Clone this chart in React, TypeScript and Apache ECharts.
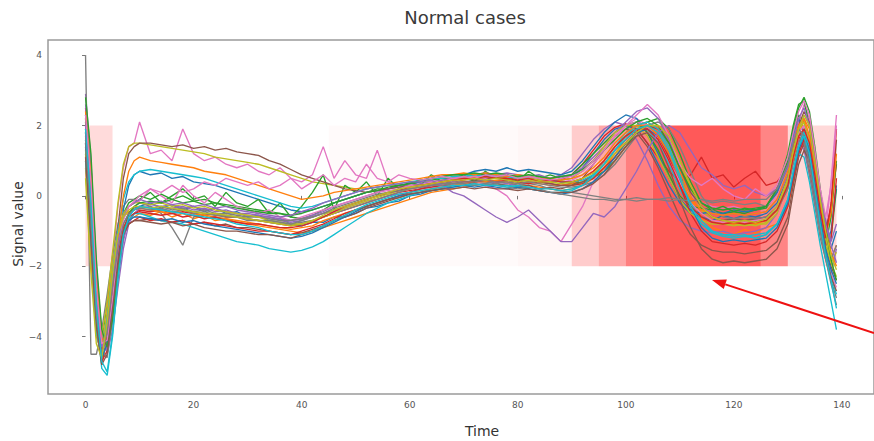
import React, { useEffect, useRef } from "react";
import * as echarts from "echarts";

// Time samples (denser where the signal changes fast)
const times = [
  0, 1, 2, 3, 4, 5, 6, 7, 8, 9,
  10, 12, 14, 16, 18, 20, 22, 24, 26, 28,
  30, 32, 34, 36, 38, 40, 42, 44, 46, 48,
  50, 52, 54, 56, 58, 60, 62, 64, 66, 68,
  70, 72, 74, 76, 78, 80, 82, 84, 86, 88,
  90, 92, 94, 96, 98, 100, 102, 104, 106, 108,
  110, 112, 114, 116, 118, 120, 122, 124, 126, 128,
  130, 131, 132, 133, 134, 135, 136, 137, 138, 139,
];

const xTicks = [0, 20, 40, 60, 80, 100, 120, 140];
const yTicks = [-4, -2, 0, 2, 4];

// Attention shading blocks (time start, time end, red intensity), spanning -2..2
const shadeStart = [0, 45, 80, 90, 95, 100, 105, 125, 130];
const shadeEnd = [5, 80, 90, 95, 100, 105, 125, 130, 139];
const shadeAlpha = [0.14, 0.018, 0.035, 0.2, 0.34, 0.5, 0.65, 0.48, 0.15];

const line01 = [1.8,-0.5,-3.2,-4.4,-3.6,-2.4,-1.4,-0.8,-0.5,-0.4, -0.3,-0.2,-0.35,-0.25,-0.4,-0.3,-0.45,-0.35,-0.5,-0.45, -0.6,-0.55,-0.7,-0.65,-0.8,-0.85,-0.75,-0.75,-0.6,-0.6, -0.5,-0.35,-0.3,-0.2,-0.15,0.0,0.05,0.15,0.2,0.3, 0.3,0.4,0.4,0.35,0.45,0.4,0.5,0.4,0.35,0.45, 0.5,0.8,1.2,1.6,1.9,2.0,1.9,1.5,0.9,0.3, -0.2,-0.5,-0.6,-0.7,-0.55,-0.65,-0.55,-0.6,-0.5,-0.2, 0.5,1.3,1.8,1.6,0.9,0.2,-0.5,-1.2,-1.5,-1.0];
const line02 = [2.2,0.3,-2.8,-4.6,-4.2,-3.0,-1.8,-1.0,-0.7,-0.6, -0.5,-0.55,-0.45,-0.6,-0.5,-0.65,-0.55,-0.7,-0.65,-0.75, -0.8,-0.85,-0.9,-0.95,-1.0,-1.05,-1.0,-0.9,-0.8,-0.7, -0.6,-0.5,-0.4,-0.3,-0.2,-0.1,0.0,0.1,0.15,0.2, 0.25,0.3,0.35,0.3,0.35,0.3,0.3,0.25,0.2,0.15, 0.2,0.3,0.5,0.8,1.2,1.6,1.9,2.0,1.8,1.3, 0.6,-0.1,-0.6,-0.9,-1.0,-1.1,-0.95,-1.05,-0.9,-0.8, -0.3,0.4,1.2,1.8,1.5,0.6,-0.4,-1.3,-1.8,-1.4];
const line03 = [1.2,-1.0,-3.8,-4.2,-3.0,-1.9,-1.1,-0.5,-0.2,-0.1, 0.0,-0.1,0.05,-0.1,0.0,-0.15,-0.1,-0.2,-0.25,-0.3, -0.35,-0.4,-0.45,-0.5,-0.6,-0.65,-0.55,-0.4,-0.2,-0.1, 0.0,0.1,0.2,0.2,0.3,0.35,0.4,0.45,0.5,0.5, 0.55,0.5,0.6,0.55,0.5,0.55,0.5,0.45,0.5,0.4, 0.35,0.4,0.5,0.7,1.0,1.4,1.8,2.1,2.2,1.9, 1.2,0.4,-0.2,-0.4,-0.5,-0.45,-0.5,-0.4,-0.35,0.1, 0.9,1.8,2.3,2.1,1.2,0.1,-0.9,-1.6,-1.2,0.2];
const line04 = [2.5,0.8,-2.5,-4.0,-4.3,-3.3,-2.0,-1.2,-0.7,-0.5, -0.4,-0.45,-0.4,-0.5,-0.45,-0.5,-0.55,-0.5,-0.6,-0.6, -0.65,-0.7,-0.75,-0.8,-0.85,-0.8,-0.7,-0.6,-0.5,-0.4, -0.3,-0.2,-0.1,0.0,0.1,0.15,0.2,0.3,0.35,0.4, 0.45,0.5,0.5,0.55,0.5,0.45,0.5,0.45,0.4,0.45, 0.6,0.9,1.3,1.7,1.95,2.05,1.9,1.5,1.1,0.7, 0.4,0.6,1.1,0.5,0.6,0.25,0.5,0.7,0.3,0.4, 0.8,1.4,1.7,1.4,0.7,-0.1,-0.8,-1.0,-0.3,0.9];
const line05 = [2.9,1.0,-2.0,-3.9,-4.5,-3.8,-2.6,-1.5,-0.8,-0.5, -0.35,-0.3,-0.4,-0.35,-0.3,-0.4,-0.35,-0.45,-0.4,-0.5, -0.55,-0.6,-0.6,-0.7,-0.75,-0.7,-0.6,-0.5,-0.45,-0.35, -0.25,-0.15,-0.1,0.0,0.05,0.1,0.2,0.25,0.3,0.3, 0.35,0.4,0.35,0.4,0.35,0.3,0.4,0.45,0.5,0.6, 0.8,1.2,1.6,1.9,2.1,2.0,1.6,1.0,0.3,-0.3, -0.7,-0.9,-1.0,-1.05,-1.0,-1.1,-1.05,-1.0,-0.9,-0.5, 0.3,1.1,1.6,1.3,0.6,-0.2,-1.0,-1.8,-2.2,-1.5];
const line06 = [1.5,-0.8,-3.5,-4.8,-4.0,-2.7,-1.6,-1.0,-0.8,-0.7, -0.7,-0.65,-0.7,-0.75,-0.7,-0.8,-0.75,-0.85,-0.8,-0.9, -0.9,-0.95,-1.0,-1.05,-1.1,-1.05,-0.95,-0.85,-0.7,-0.6, -0.5,-0.35,-0.25,-0.15,-0.05,0.05,0.1,0.2,0.25,0.3, 0.3,0.35,0.3,0.35,0.3,0.25,0.3,0.2,0.25,0.2, 0.3,0.5,0.9,1.3,1.7,1.9,1.8,1.4,0.8,0.1, -0.6,-1.1,-1.4,-1.55,-1.6,-1.6,-1.65,-1.6,-1.55,-1.3, -0.6,0.3,1.1,1.5,1.2,0.4,-0.6,-1.5,-2.0,-2.4];
const line07 = [2.0,-0.2,-3.0,-4.2,-3.4,-1.8,-0.3,0.8,1.4,1.5, 2.1,1.2,1.3,1.0,1.9,1.2,1.0,1.1,0.9,0.8, 0.9,0.7,0.6,0.8,0.5,0.4,0.6,1.4,0.5,1.0, 0.6,0.5,1.3,0.4,0.3,0.35,0.4,0.4,0.45,0.4, 0.5,0.45,0.3,0.2,0.0,-0.4,-0.6,-0.9,-1.0,-1.3, -0.8,-0.3,0.4,1.0,1.6,2.0,2.2,2.0,1.5,0.9, 0.4,0.0,-0.2,-0.3,-0.35,-0.3,-0.4,-0.35,-0.3,0.0, 0.7,1.5,2.1,2.6,2.2,1.2,0.1,-1.0,0.4,2.3];
const line08 = [4.0,-4.5,-4.5,-3.8,-2.8,-1.7,-0.8,-0.3,-0.1,-0.1, -0.2,-0.3,-0.5,-0.9,-1.4,-0.6,-0.5,-0.55,-0.6,-0.6, -0.7,-0.7,-0.75,-0.8,-0.8,-0.75,-0.7,-0.6,-0.5,-0.4, -0.3,-0.2,-0.1,0.0,0.1,0.2,0.25,0.3,0.35,0.4, 0.4,0.45,0.4,0.35,0.4,0.3,0.35,0.3,0.2,0.15, 0.1,0.05,0.0,-0.05,-0.1,-0.1,-0.05,-0.1,-0.1,-0.05, -0.1,-0.15,-0.1,-0.2,-0.15,-0.2,-0.25,-0.2,-0.3,0.1, 0.8,1.6,2.0,1.5,0.6,-0.3,-1.2,-1.8,-2.4,-2.9];
const line09 = [1.0,-1.5,-3.8,-4.0,-3.0,-1.6,-0.2,0.9,1.4,1.5, 1.5,1.45,1.4,1.35,1.3,1.25,1.2,1.1,1.05,1.0, 0.95,0.9,0.8,0.7,0.6,0.5,0.4,0.35,0.3,0.25, 0.2,0.2,0.25,0.3,0.3,0.35,0.4,0.4,0.45,0.5, 0.5,0.55,0.5,0.5,0.45,0.5,0.4,0.45,0.4,0.35, 0.3,0.35,0.5,0.8,1.1,1.5,1.8,2.0,2.0,1.7, 1.0,0.2,-0.4,-0.7,-0.8,-0.8,-0.85,-0.8,-0.8,-0.5, 0.4,1.4,2.0,2.0,1.3,0.3,-0.7,-1.4,-1.9,-1.6];
const line10 = [1.6,-0.6,-3.4,-4.9,-5.1,-4.0,-2.4,-1.2,-0.7,-0.5, -0.5,-0.6,-0.7,-0.75,-0.8,-0.9,-1.0,-1.1,-1.2,-1.3, -1.35,-1.4,-1.5,-1.55,-1.6,-1.55,-1.45,-1.3,-1.1,-0.9, -0.7,-0.5,-0.35,-0.2,-0.1,0.0,0.1,0.15,0.2,0.25, 0.3,0.3,0.35,0.3,0.3,0.25,0.2,0.15,0.1,0.1, 0.15,0.3,0.6,1.0,1.4,1.8,2.0,1.9,1.5,0.9, 0.2,-0.4,-0.8,-1.0,-1.1,-1.1,-1.15,-1.1,-1.05,-0.8, -0.2,0.6,1.2,1.1,0.4,-0.5,-1.4,-2.2,-3.0,-3.8];
const line11 = [2.3,0.5,-2.6,-4.3,-4.1,-3.0,-1.5,-0.4,0.3,0.6, 0.7,0.6,0.65,0.5,0.55,0.4,0.35,0.3,0.2,0.1, 0.0,-0.1,-0.2,-0.3,-0.4,-0.45,-0.4,-0.3,-0.2,-0.1, 0.0,0.1,0.15,0.2,0.3,0.35,0.4,0.5,0.55,0.6, 0.6,0.7,0.75,0.7,0.8,0.7,0.75,0.7,0.65,0.6, 0.7,1.0,1.4,1.8,2.1,2.3,2.2,1.8,1.2,0.5, -0.1,-0.4,-0.5,-0.45,-0.5,-0.4,-0.45,-0.4,-0.3,0.1, 0.9,1.7,2.2,1.8,1.0,0.0,-0.8,-1.4,-1.0,0.3];
const line12 = [0.8,-1.8,-4.0,-4.5,-3.3,-2.0,-1.0,-0.6,-0.45,-0.4, -0.35,-0.4,-0.45,-0.5,-0.4,-0.5,-0.55,-0.6,-0.65,-0.7, -0.75,-0.8,-0.85,-0.9,-0.95,-0.9,-0.85,-0.7,-0.6,-0.5, -0.4,-0.3,-0.2,-0.1,0.0,0.1,0.15,0.2,0.25,0.3, 0.35,0.4,0.4,0.45,0.4,0.35,0.4,0.35,0.3,0.3, 0.35,0.5,0.7,1.0,1.4,1.7,2.0,2.1,1.9,1.4, 0.7,0.0,-0.5,-0.7,-0.75,-0.8,-0.75,-0.8,-0.7,-0.4, 0.2,1.0,1.7,2.2,1.9,1.0,0.0,-0.9,-1.6,-2.0];
const line13 = [1.9,0.0,-3.0,-4.3,-3.9,-2.6,-1.3,-0.6,-0.3,-0.2, -0.1,0.1,-0.2,0.0,0.2,-0.1,0.0,-0.3,0.1,-0.2, -0.3,-0.1,-0.5,-0.2,-0.6,-0.3,0.1,0.6,-0.4,0.3, 0.1,0.4,0.0,0.5,0.2,0.4,0.3,0.6,0.4,0.5, 0.6,0.4,0.7,0.5,0.6,0.4,0.7,0.5,0.6,0.5, 0.6,0.9,1.2,1.5,1.8,2.0,2.1,1.8,1.3,0.6, 0.0,-0.3,-0.35,-0.4,-0.3,-0.45,-0.35,-0.4,-0.3,0.2, 1.2,2.0,2.6,2.7,2.0,0.8,-0.4,-1.4,-0.6,1.0];
const line14 = [1.4,-1.2,-3.6,-4.7,-4.4,-3.2,-1.9,-1.1,-0.8,-0.7, -0.6,-0.7,-0.65,-0.75,-0.7,-0.8,-0.75,-0.8,-0.85,-0.9, -0.95,-1.0,-1.0,-1.05,-1.1,-1.0,-0.9,-0.8,-0.65,-0.5, -0.4,-0.3,-0.2,-0.1,0.0,0.1,0.2,0.25,0.3,0.35, 0.4,0.4,0.45,0.4,0.45,0.4,0.35,0.4,0.35,0.3, 0.3,0.35,0.5,0.8,1.1,1.5,1.8,1.9,1.7,1.1, 0.3,-0.5,-1.0,-1.3,-1.35,-1.4,-1.35,-1.4,-1.3,-1.0, -0.3,0.5,1.2,1.6,1.4,0.6,-0.5,-1.4,-1.2,0.5];
const line15 = [2.6,0.9,-2.2,-4.0,-4.4,-3.6,-2.3,-1.3,-0.6,-0.3, -0.2,-0.25,-0.3,-0.25,-0.35,-0.3,-0.4,-0.35,-0.45,-0.5, -0.5,-0.55,-0.6,-0.65,-0.7,-0.65,-0.55,-0.45,-0.3,-0.2, -0.1,0.0,0.1,0.2,0.25,0.3,0.35,0.4,0.45,0.5, 0.55,0.6,0.65,0.6,0.65,0.6,0.55,0.6,0.5,0.55, 0.6,0.8,1.1,1.4,1.8,2.1,2.4,2.5,2.2,1.6, 0.8,0.1,-0.3,-0.5,-0.55,-0.5,-0.55,-0.5,-0.45,-0.1, 0.6,1.3,1.9,2.3,2.0,1.1,0.1,-0.7,-1.3,-0.8];
const line16 = [2.1,0.2,-2.9,-4.4,-3.9,-2.5,-0.9,0.5,1.2,1.4, 1.5,1.5,1.45,1.4,1.45,1.35,1.4,1.3,1.35,1.25, 1.2,1.15,1.0,0.9,0.75,0.6,0.5,0.4,0.3,0.2, 0.15,0.1,0.15,0.2,0.25,0.3,0.3,0.35,0.4,0.45, 0.5,0.45,0.5,0.5,0.45,0.4,0.45,0.4,0.35,0.3, 0.3,0.4,0.6,0.9,1.3,1.6,1.9,2.0,1.9,1.5, 0.8,0.1,-0.3,-0.6,-0.7,-0.65,-0.7,-0.65,-0.6,-0.3, 0.5,1.4,2.0,2.4,2.1,1.1,0.0,-0.9,-0.4,1.6];
const line17 = [1.7,-0.4,-3.3,-4.5,-3.7,-2.3,-1.2,-0.6,-0.3,-0.2, -0.15,0.2,0.0,-0.2,0.3,0.0,-0.2,0.1,-0.1,-0.3, -0.4,-0.5,-0.4,-0.6,-0.7,-0.6,-0.5,-0.4,-0.3,-0.2, -0.1,0.0,0.1,0.15,0.2,0.3,0.3,0.4,0.4,0.5, 0.5,0.55,0.5,0.6,0.55,0.5,0.45,0.4,0.45,0.4, 0.45,0.6,0.9,1.3,1.7,2.0,2.1,2.0,1.6,1.0, 0.4,-0.2,-0.5,-0.7,-0.75,-0.7,-0.75,-0.7,-0.65,-0.3, 0.4,1.2,1.8,2.0,1.5,0.5,-0.6,-1.6,-2.2,-2.6];
const line18 = [2.2,0.1,-2.9,-4.4,-4.6,-3.5,-2.1,-1.0,-0.5,-0.35, -0.3,-0.35,-0.3,-0.4,-0.35,-0.45,-0.4,-0.5,-0.5,-0.55, -0.6,-0.6,-0.65,-0.7,-0.7,-0.65,-0.6,-0.5,-0.4,-0.3, -0.2,-0.1,0.0,0.05,0.15,0.2,0.25,0.3,0.35,0.35, 0.4,0.4,0.45,0.4,0.4,0.35,0.4,0.35,0.3,0.25, 0.25,0.3,0.4,0.6,0.9,1.3,1.7,2.0,2.1,1.9, 1.4,0.7,0.0,-0.4,-0.6,-0.65,-0.6,-0.65,-0.6,-0.4, 0.2,0.9,1.5,1.9,1.7,0.9,-0.1,-1.1,-1.8,-1.4];
const line19 = [1.3,-1.0,-3.6,-4.3,-3.4,-2.0,-1.0,-0.5,-0.3,-0.2, -0.2,-0.25,-0.2,-0.3,-0.25,-0.35,-0.3,-0.4,-0.45,-0.5, -0.55,-0.6,-0.7,-0.75,-0.8,-0.8,-0.7,-0.6,-0.5,-0.35, -0.25,-0.15,-0.05,0.05,0.15,0.2,0.3,0.35,0.4,0.45, 0.5,0.5,0.55,0.5,0.55,0.5,0.5,0.45,0.5,0.45, 0.5,0.7,1.0,1.4,1.8,2.0,2.0,1.7,1.1,0.5, -0.1,-0.5,-0.7,-0.8,-0.8,-0.85,-0.8,-0.85,-0.75,-0.4, 0.4,1.2,1.9,2.1,1.6,0.7,-0.3,-1.2,-1.9,-2.3];
const line20 = [1.0,-1.4,-3.9,-4.6,-3.5,-2.2,-1.0,-0.1,0.4,0.6, 0.7,0.75,0.7,0.65,0.6,0.55,0.5,0.4,0.3,0.2, 0.1,0.0,-0.1,-0.2,-0.3,-0.35,-0.3,-0.2,-0.1,0.0, 0.1,0.2,0.25,0.3,0.35,0.4,0.45,0.5,0.5,0.55, 0.55,0.6,0.55,0.6,0.55,0.5,0.55,0.5,0.45,0.4, 0.4,0.45,0.6,0.9,1.3,1.7,2.0,2.1,1.9,1.4, 0.6,-0.2,-0.7,-1.0,-1.1,-1.15,-1.1,-1.2,-1.1,-0.8, -0.1,0.7,1.4,1.8,1.4,0.4,-0.7,-1.6,-2.3,-2.8];
const line21 = [1.5,-0.7,-3.5,-4.6,-4.2,-3.0,-1.7,-1.0,-0.7,-0.6, -0.6,-0.65,-0.7,-0.65,-0.75,-0.7,-0.8,-0.85,-0.9,-0.95, -1.0,-1.05,-1.1,-1.15,-1.2,-1.15,-1.05,-0.9,-0.75,-0.6, -0.45,-0.3,-0.2,-0.1,0.0,0.05,0.1,0.15,0.2,0.25, 0.3,0.25,0.3,0.25,0.2,0.25,0.2,0.15,0.1,0.05, 0.1,0.2,0.4,0.7,1.1,1.5,1.8,1.9,1.7,1.2, 0.5,-0.3,-0.9,-1.2,-1.3,-1.25,-1.3,-1.25,-1.2,-0.9, -0.2,0.6,1.3,1.7,1.3,0.4,-0.6,-1.5,-2.1,-2.5];
const line22 = [2.4,0.6,-2.4,-4.1,-4.0,-2.8,-1.2,0.0,0.7,1.0, 1.1,1.0,0.95,0.9,0.85,0.8,0.7,0.65,0.6,0.5, 0.4,0.3,0.2,0.1,0.0,-0.1,-0.05,0.0,0.1,0.15, 0.2,0.25,0.3,0.35,0.4,0.45,0.5,0.55,0.6,0.6, 0.65,0.6,0.65,0.6,0.55,0.6,0.55,0.5,0.5,0.45, 0.5,0.6,0.8,1.1,1.5,1.8,2.0,2.0,1.7,1.2, 0.5,-0.1,-0.4,-0.5,-0.55,-0.5,-0.55,-0.5,-0.45,-0.1, 0.7,1.5,2.0,2.2,1.7,0.8,-0.2,-1.1,-0.5,1.2];
const line23 = [2.8,1.2,-1.8,-3.8,-4.3,-3.5,-2.2,-1.1,-0.5,-0.3, -0.2,-0.15,-0.2,-0.1,-0.2,-0.15,-0.25,-0.2,-0.3,-0.35, -0.4,-0.45,-0.5,-0.5,-0.55,-0.5,-0.4,-0.3,-0.2,-0.1, 0.0,0.1,0.15,0.25,0.3,0.35,0.45,0.5,0.55,0.6, 0.6,0.65,0.6,0.65,0.6,0.55,0.6,0.55,0.5,0.55, 0.6,0.75,1.0,1.3,1.6,1.9,2.1,2.2,2.0,1.5, 0.8,0.2,-0.2,-0.35,-0.4,-0.35,-0.4,-0.35,-0.3,0.2, 1.0,1.9,2.5,2.8,2.4,1.4,0.2,-0.9,-1.8,-2.4];
const line24 = [1.8,-0.3,-3.1,-4.4,-4.0,-2.8,-1.6,-0.9,-0.6,-0.5, -0.45,-0.5,-0.55,-0.5,-0.6,-0.55,-0.65,-0.6,-0.7,-0.75, -0.8,-0.8,-0.85,-0.9,-0.9,-0.85,-0.75,-0.6,-0.45,-0.3, -0.2,-0.1,0.0,0.1,0.15,0.25,0.3,0.35,0.4,0.45, 0.5,0.5,0.55,0.5,0.5,0.45,0.5,0.4,0.45,0.4, 0.4,0.5,0.7,1.0,1.4,1.7,1.9,1.9,1.6,1.0, 0.3,-0.3,-0.6,-0.75,-0.8,-0.75,-0.8,-0.75,-0.7,-0.4, 0.3,1.1,1.7,1.9,1.5,0.6,-0.4,-1.2,-0.2,1.9];
const line25 = [2.0,-0.1,-3.0,-4.3,-3.8,-2.5,-1.3,-0.6,-0.3,-0.2, -0.1,-0.2,-0.15,-0.25,-0.2,-0.3,-0.25,-0.35,-0.3,-0.4, -0.45,-0.5,-0.55,-0.6,-0.55,-0.45,-0.35,-0.2,-0.1,0.0, 0.1,0.2,0.25,0.3,0.35,0.4,0.4,0.45,0.3,0.1, 0.0,-0.2,-0.4,-0.6,-0.75,-0.6,-0.4,-0.7,-1.0,-1.3, -1.3,-0.9,-0.5,-0.6,-0.3,0.2,0.7,1.3,1.8,2.0, 1.8,1.3,0.8,0.6,0.3,0.2,0.3,0.1,0.0,0.2, 0.8,1.6,2.2,2.5,2.0,1.0,0.0,-0.8,-1.4,-1.9];
const line26 = [1.1,-1.3,-3.7,-4.8,-4.5,-3.2,-1.9,-1.1,-0.8,-0.7, -0.7,-0.75,-0.8,-0.75,-0.85,-0.8,-0.9,-0.95,-1.0,-1.0, -1.05,-1.1,-1.1,-1.15,-1.2,-1.1,-1.0,-0.85,-0.7,-0.55, -0.4,-0.3,-0.2,-0.1,-0.05,0.05,0.1,0.15,0.2,0.2, 0.25,0.2,0.25,0.2,0.2,0.15,0.2,0.15,0.1,0.1, 0.1,0.2,0.35,0.6,1.0,1.4,1.7,1.8,1.5,0.8, -0.1,-0.9,-1.5,-1.8,-1.9,-1.85,-1.9,-1.85,-1.8,-1.5, -0.8,0.1,0.9,1.3,1.0,0.2,-0.8,-1.7,-2.3,-2.7];
const line27 = [2.3,0.4,-2.6,-4.2,-4.1,-2.9,-1.5,-0.7,-0.3,-0.15, 0.0,0.2,0.1,0.3,0.1,0.2,0.4,0.3,0.5,0.4, 0.3,0.4,0.2,0.3,0.5,0.2,0.4,0.6,0.3,0.5, 0.4,0.9,0.5,0.4,0.6,0.5,0.45,0.5,0.55,0.5, 0.55,0.5,0.6,0.55,0.6,0.5,0.55,0.5,0.45,0.5, 0.55,0.7,1.0,1.3,1.7,2.0,2.3,2.6,2.3,1.7, 0.9,0.5,0.3,0.5,0.2,0.0,-0.1,0.2,0.0,0.3, 1.1,1.8,2.4,2.7,2.3,1.3,0.2,-0.6,0.3,2.0];
const line28 = [1.6,-0.6,-3.4,-4.5,-3.9,-2.6,-1.5,-0.8,-0.5,-0.4, -0.35,-0.4,-0.35,-0.45,-0.4,-0.5,-0.45,-0.55,-0.55,-0.6, -0.65,-0.7,-0.7,-0.75,-0.8,-0.7,-0.6,-0.5,-0.35,-0.25, -0.15,-0.05,0.05,0.1,0.15,0.2,0.25,0.3,0.3,0.35, 0.35,0.3,0.35,0.3,0.25,0.2,0.25,0.2,0.1,0.05, 0.0,-0.05,-0.1,-0.1,-0.15,-0.1,-0.15,-0.1,-0.1,-0.15, -0.1,-0.15,-0.1,-0.15,-0.1,-0.15,-0.1,-0.1,-0.1,0.2, 0.9,1.5,1.9,1.7,0.9,0.0,-1.0,-1.8,-2.5,-3.1];
const line29 = [0.5,-2.2,-4.2,-4.6,-3.6,-2.2,-1.1,-0.6,-0.4,-0.3, -0.3,-0.35,-0.3,-0.35,-0.4,-0.45,-0.5,-0.5,-0.55,-0.6, -0.65,-0.7,-0.75,-0.8,-0.85,-0.8,-0.7,-0.55,-0.4,-0.3, -0.2,-0.1,0.0,0.1,0.2,0.25,0.3,0.35,0.4,0.45, 0.45,0.5,0.45,0.5,0.45,0.4,0.45,0.4,0.4,0.35, 0.4,0.5,0.65,0.9,1.2,1.5,1.8,2.0,2.0,1.7, 1.0,0.3,-0.3,-0.6,-0.7,-0.75,-0.7,-0.75,-0.65,-0.3, 0.5,1.3,1.9,2.3,2.0,1.0,-0.1,-1.0,-1.7,-2.1];
const line30 = [1.9,-0.2,-3.1,-4.7,-5.0,-3.9,-2.3,-1.1,-0.6,-0.4, -0.3,-0.35,-0.4,-0.45,-0.5,-0.55,-0.6,-0.65,-0.7,-0.8, -0.85,-0.9,-1.0,-1.05,-1.1,-1.1,-1.0,-0.85,-0.7,-0.55, -0.4,-0.25,-0.15,-0.05,0.05,0.1,0.15,0.2,0.25,0.3, 0.3,0.35,0.3,0.3,0.25,0.3,0.25,0.2,0.2,0.15, 0.2,0.3,0.55,0.9,1.3,1.6,1.9,2.0,1.8,1.3, 0.5,-0.3,-0.8,-1.05,-1.15,-1.2,-1.15,-1.2,-1.1,-0.8, -0.1,0.7,1.4,1.7,1.2,0.2,-0.8,-1.7,-2.4,-3.2];

const signalLines = [
  line01, line02, line03, line04, line05, line06, line07, line08, line09, line10,
  line11, line12, line13, line14, line15, line16, line17, line18, line19, line20,
  line21, line22, line23, line24, line25, line26, line27, line28, line29, line30,
];

const palette = ["#1f77b4", "#ff7f0e", "#2ca02c", "#d62728", "#9467bd", "#8c564b", "#e377c2", "#7f7f7f", "#bcbd22", "#17becf"];

const FONT = "DejaVu Sans";

function fmtTick(v: number): string {
  return v < 0 ? "\u2212" + Math.abs(v) : String(v);
}

export default function App() {
  const ref = useRef<HTMLDivElement>(null);

  useEffect(() => {
    document.body.style.margin = "0";
    if (!ref.current) return;
    const chart = echarts.init(ref.current, null, { renderer: "svg" });

    const shadeData = shadeStart.map((s, i) => [s, shadeEnd[i], shadeAlpha[i]]);

    const lineSeries = signalLines.map((vals, i) => ({
      type: "line",
      data: times.map((t, j) => [t, vals[j]]),
      symbol: "none",
      showSymbol: false,
      silent: true,
      z: 3,
      lineStyle: { width: 1.35, color: palette[i % palette.length] },
    }));

    // arrow annotation
    const tip = [712, 280];
    const tail = [874, 333];
    const dx = tip[0] - tail[0];
    const dy = tip[1] - tail[1];
    const len = Math.sqrt(dx * dx + dy * dy);
    const ux = dx / len;
    const uy = dy / len;
    const headL = 14;
    const headW = 5;
    const bx = tip[0] - ux * headL;
    const by = tip[1] - uy * headL;
    const nx = -uy * headW;
    const ny = ux * headW;

    chart.setOption({
      animation: false,
      backgroundColor: "#ffffff",
      textStyle: { fontFamily: FONT },
      title: {
        text: "Normal cases",
        left: 460,
        textAlign: "center",
        top: 3,
        textStyle: { fontFamily: FONT, fontSize: 18, fontWeight: "normal", color: "#3a3a3a" },
      },
      grid: {
        left: 48,
        top: 40,
        width: 826,
        height: 354,
        show: true,
        borderColor: "#9a9a9a",
        borderWidth: 1.5,
        backgroundColor: "transparent",
      },
      xAxis: {
        type: "value",
        min: -6.95,
        max: 145.95,
        splitLine: { show: false },
        axisLine: { show: false },
        axisTick: { show: true, length: 3.5, customValues: xTicks, lineStyle: { color: "#777" } },
        axisLabel: { customValues: xTicks, fontSize: 9, color: "#555", margin: 6, fontFamily: FONT },
      },
      yAxis: {
        type: "value",
        min: -5.63,
        max: 4.43,
        splitLine: { show: false },
        axisLine: { show: false },
        axisTick: { show: true, length: 3.5, customValues: yTicks, lineStyle: { color: "#777" } },
        axisLabel: { customValues: yTicks, fontSize: 9, color: "#555", margin: 6, fontFamily: FONT, formatter: fmtTick },
      },
      graphic: [
        {
          type: "text",
          x: 18,
          y: 224,
          rotation: Math.PI / 2,
          style: { text: "Signal value", fontSize: 14, fontFamily: FONT, fill: "#333", align: "center", verticalAlign: "middle" },
        },
        {
          type: "text",
          x: 482,
          y: 431,
          style: { text: "Time", fontSize: 14, fontFamily: FONT, fill: "#333", align: "center", verticalAlign: "middle" },
        },
        {
          type: "line",
          shape: { x1: tail[0], y1: tail[1], x2: bx, y2: by },
          style: { stroke: "#ee1111", lineWidth: 2 },
          z: 100,
        },
        {
          type: "polygon",
          shape: { points: [[tip[0], tip[1]], [bx + nx, by + ny], [bx - nx, by - ny]] },
          style: { fill: "#ee1111" },
          z: 100,
        },
      ],
      series: [
        {
          type: "custom",
          silent: true,
          z: 1,
          data: shadeData,
          encode: { x: [0, 1] },
          renderItem: (params: any, api: any) => {
            const p0 = api.coord([api.value(0), 2]);
            const p1 = api.coord([api.value(1), -2]);
            return {
              type: "rect",
              shape: { x: p0[0], y: p0[1], width: p1[0] - p0[0], height: p1[1] - p0[1] },
              style: { fill: `rgba(255,0,0,${api.value(2)})` },
            };
          },
        },
        ...lineSeries,
      ],
    });

    return () => chart.dispose();
  }, []);

  return <div ref={ref} style={{ position: "fixed", left: 0, top: 0, width: 874, height: 441 }} />;
}
